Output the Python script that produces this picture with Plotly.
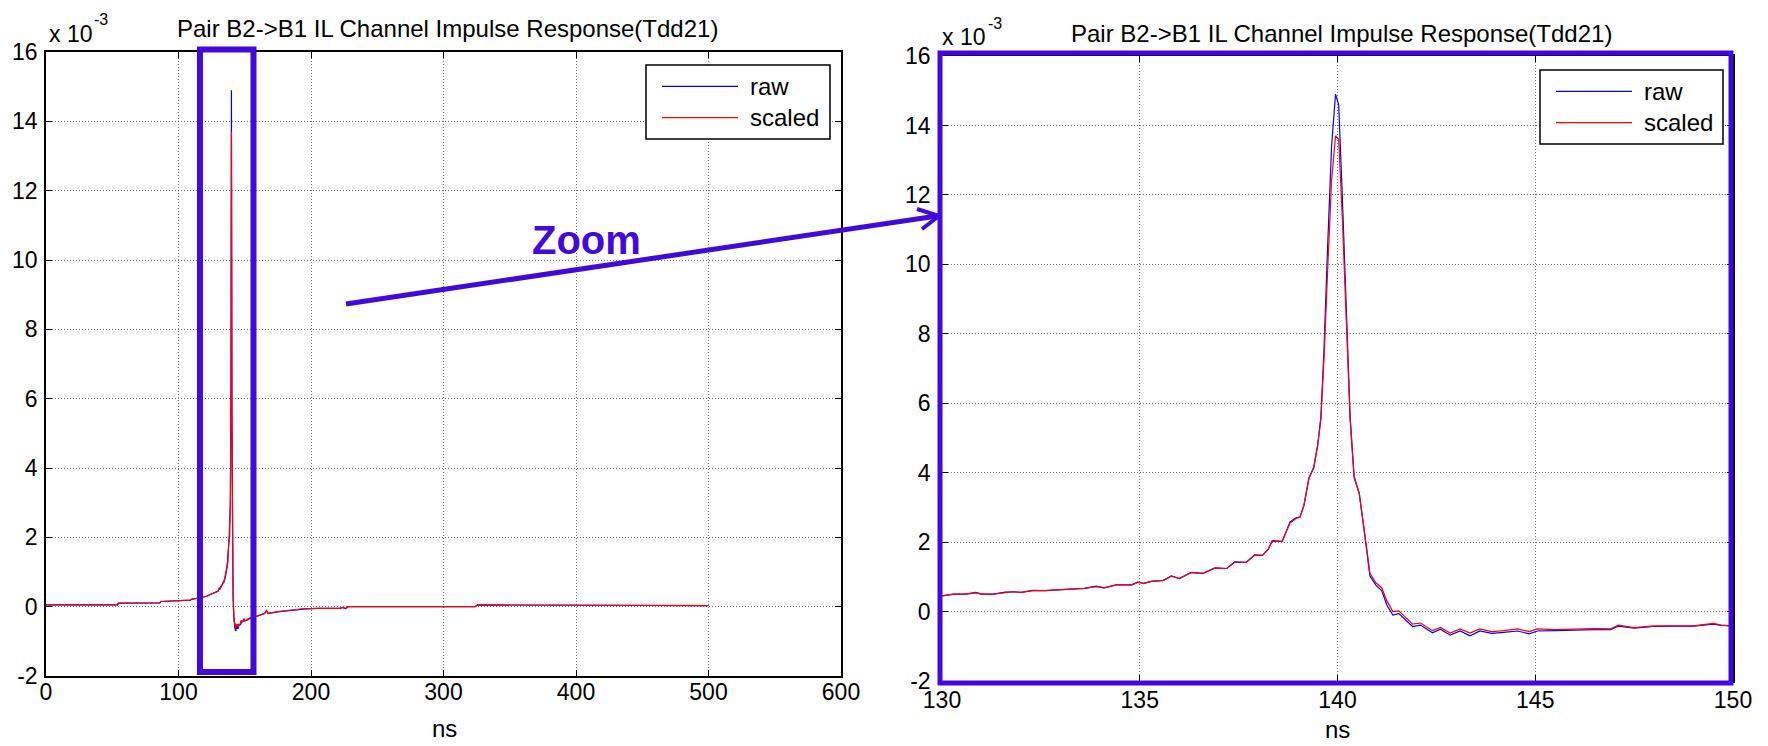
import plotly.graph_objects as go

# ---------------- data (values in units of 1e-3) ----------------
time_ns = [0, 54, 54.6, 86, 86.6, 100, 109, 110, 116, 121, 125, 128,
           130.0, 130.3, 130.6, 130.85, 131.0, 131.3, 131.6, 131.8, 132.0, 132.3,
           132.6, 133.0, 133.3, 133.6, 133.9, 134.1, 134.4, 134.8, 134.95, 135.1,
           135.3, 135.6, 135.8, 136.0, 136.3, 136.6, 136.9, 137.2, 137.4, 137.7,
           137.9, 138.1, 138.25, 138.35, 138.6, 138.8, 138.95, 139.05, 139.15, 139.28,
           139.4, 139.5, 139.58, 139.66, 139.75, 139.85, 139.95, 140.03, 140.12, 140.22,
           140.32, 140.42, 140.55, 140.7, 140.82, 140.97, 141.12, 141.25, 141.4, 141.55,
           141.7, 141.9, 142.1, 142.4, 142.6, 142.85, 143.1, 143.35, 143.6, 143.9,
           144.2, 144.55, 144.85, 145.05, 145.5, 146.0, 146.5, 146.9, 147.1, 147.5,
           148.0, 148.5, 149.0, 149.5, 149.7, 150.0,
           152, 156, 160, 165, 166.5, 167.5, 175, 185, 194, 205, 222, 224, 226, 228,
           324, 325.5, 500]

raw_e3 = [0.05, 0.05, 0.10, 0.11, 0.15, 0.17, 0.19, 0.22, 0.25, 0.30, 0.36, 0.42,
          0.45, 0.50, 0.50, 0.55, 0.50, 0.50, 0.56, 0.57, 0.55, 0.61,
          0.60, 0.63, 0.66, 0.67, 0.73, 0.68, 0.77, 0.77, 0.85, 0.81,
          0.87, 0.90, 1.03, 0.95, 1.13, 1.10, 1.26, 1.24, 1.43, 1.42,
          1.63, 1.62, 1.80, 2.04, 2.02, 2.58, 2.70, 2.72, 3.05, 3.85,
          4.15, 4.80, 5.60, 7.60, 10.5, 13.4, 14.9, 14.6, 12.0, 8.5,
          5.6, 3.9, 3.4, 2.1, 1.02, 0.76, 0.60, 0.18, -0.10, -0.06,
          -0.22, -0.43, -0.39, -0.61, -0.51, -0.68, -0.56, -0.70, -0.56, -0.63,
          -0.60, -0.56, -0.64, -0.56, -0.55, -0.53, -0.52, -0.52, -0.42, -0.48,
          -0.43, -0.42, -0.42, -0.36, -0.40, -0.41,
          -0.38, -0.30, -0.27, -0.20, -0.12, -0.20, -0.15, -0.10, -0.07, -0.05, -0.05, -0.02, -0.06, 0.0,
          0.0, 0.05, 0.03]

scaled_e3 = [0.05, 0.05, 0.10, 0.11, 0.15, 0.17, 0.19, 0.22, 0.25, 0.30, 0.36, 0.42,
             0.45, 0.50, 0.50, 0.54, 0.50, 0.50, 0.55, 0.57, 0.55, 0.60,
             0.60, 0.63, 0.66, 0.67, 0.72, 0.68, 0.77, 0.77, 0.84, 0.81,
             0.87, 0.90, 1.02, 0.95, 1.12, 1.10, 1.25, 1.24, 1.42, 1.42,
             1.62, 1.62, 1.80, 2.02, 2.02, 2.55, 2.68, 2.72, 3.05, 3.85,
             4.15, 4.80, 5.55, 7.30, 9.8, 12.4, 13.7, 13.6, 11.4, 8.2,
             5.5, 3.85, 3.4, 2.15, 1.10, 0.83, 0.68, 0.30, 0.0, 0.02,
             -0.15, -0.36, -0.33, -0.55, -0.46, -0.62, -0.50, -0.62, -0.50, -0.58,
             -0.55, -0.50, -0.58, -0.50, -0.52, -0.50, -0.49, -0.50, -0.39, -0.46,
             -0.41, -0.41, -0.41, -0.34, -0.39, -0.41,
             -0.36, -0.29, -0.26, -0.19, -0.11, -0.19, -0.14, -0.09, -0.06, -0.05, -0.05, -0.02, -0.05, 0.0,
             0.0, 0.05, 0.03]

series_names = ["raw", "scaled"]
left_xticks = [0, 100, 200, 300, 400, 500, 600]
right_xticks = [130, 135, 140, 145, 150]
y_ticks = [-2, 0, 2, 4, 6, 8, 10, 12, 14, 16]
y_ticklabels = ["-2", "0", "2", "4", "6", "8", "10", "12", "14", "16"]
zoom_window_ns = [116.2, 156.6]
title_text = "Pair B2->B1 IL Channel Impulse Response(Tdd21)"

# ---------------- layout helpers ----------------
W, H = 1768, 746
FONT = "Liberation Sans, Arial, sans-serif"
ACCENT = "#4209DD"
BLUE = "#0000FF"
RED = "#FF0000"


def px(x):
    return x / W


def py(y):
    return 1 - y / H


fig = go.Figure()
for xa, ya in (("x", "y"), ("x2", "y2")):
    fig.add_trace(go.Scatter(x=time_ns, y=raw_e3, mode="lines", name=series_names[0],
                             line=dict(color=BLUE, width=1.2), xaxis=xa, yaxis=ya,
                             showlegend=False))
    fig.add_trace(go.Scatter(x=time_ns, y=scaled_e3, mode="lines", name=series_names[1],
                             line=dict(color=RED, width=1.2), xaxis=xa, yaxis=ya,
                             showlegend=False))

axis_style = dict(showline=True, linecolor="black", linewidth=1.5, mirror="ticks",
                  ticks="inside", ticklen=6, tickcolor="black", tickwidth=1,
                  showgrid=True, gridcolor="rgba(0,0,0,0.55)", griddash="1px,2px", gridwidth=1,
                  zeroline=False, automargin=False,
                  tickfont=dict(family=FONT, size=23, color="black"))

fig.update_layout(
    width=W, height=H, margin=dict(l=0, r=0, t=0, b=0, autoexpand=False),
    paper_bgcolor="white", plot_bgcolor="white",
    xaxis=dict(domain=[px(46), px(841)], range=[0, 600], tickvals=left_xticks,
               anchor="y", ticklabelstandoff=-5, **axis_style),
    yaxis=dict(domain=[py(676), py(52)], range=[-2, 16], tickvals=y_ticks,
               ticktext=y_ticklabels, anchor="x", ticklabelstandoff=2, **axis_style),
    xaxis2=dict(domain=[px(942), px(1733)], range=[130, 150], tickvals=right_xticks,
                anchor="y2", ticklabelstandoff=-2, **axis_style),
    yaxis2=dict(domain=[py(681), py(56)], range=[-2, 16], tickvals=y_ticks,
                ticktext=y_ticklabels, anchor="x2", ticklabelstandoff=5, **axis_style),
)

ann = []


def text(x, y, s, size, xanchor="center", yanchor="middle", color="black", bold=False):
    ann.append(dict(x=px(x), y=py(y), xref="paper", yref="paper", text=s, showarrow=False,
                    xanchor=xanchor, yanchor=yanchor, borderpad=0,
                    font=dict(family=FONT, size=size, color=color,
                              weight="bold" if bold else "normal")))


# titles
text(447, 28, title_text, 24)
text(1341, 33, title_text, 24)
# exponent labels
text(48, 34, "x 10", 23, xanchor="left")
text(93, 19, "-3", 16, xanchor="left")
text(941, 37, "x 10", 23, xanchor="left")
text(987, 23, "-3", 16, xanchor="left")
# x axis labels
text(444, 728, "ns", 24)
text(1337, 729, "ns", 24)
# Zoom label
text(586, 240, "Zoom", 40, color=ACCENT, bold=True)

shapes = []


def pline(x0, y0, x1, y1, color, width):
    shapes.append(dict(type="line", xref="paper", yref="paper", x0=px(x0), y0=py(y0),
                       x1=px(x1), y1=py(y1), line=dict(color=color, width=width)))


def prect(x0, y0, x1, y1, color, width):
    shapes.append(dict(type="rect", xref="paper", yref="paper", x0=px(x0), y0=py(y0),
                       x1=px(x1), y1=py(y1), line=dict(color=color, width=width),
                       fillcolor="rgba(0,0,0,0)"))


# legends (manual)
for (bx0, by0, bx1, by1) in ((646, 65, 830, 139), (1540, 70, 1723, 144)):
    shapes.append(dict(type="rect", xref="paper", yref="paper", x0=px(bx0), y0=py(by0),
                       x1=px(bx1), y1=py(by1), line=dict(color="black", width=1.5),
                       fillcolor="white", layer="above"))
    r1 = by0 + (by1 - by0) * 0.29
    r2 = by0 + (by1 - by0) * 0.71
    pline(bx0 + 16, r1, bx0 + 92, r1, BLUE, 1.2)
    pline(bx0 + 16, r2, bx0 + 92, r2, RED, 1.2)
    text(bx0 + 103, r1, series_names[0], 24, xanchor="left")
    text(bx0 + 103, r2, series_names[1], 24, xanchor="left")

# zoom window on left plot
shapes.append(dict(type="rect", xref="x", yref="paper", x0=zoom_window_ns[0], x1=zoom_window_ns[1],
                   y0=py(672), y1=py(49.5), line=dict(color=ACCENT, width=6),
                   fillcolor="rgba(0,0,0,0)"))
# frame around right plot
prect(940, 53, 1731, 683, ACCENT, 5)
# arrow
pline(346, 304, 937, 216, ACCENT, 5)
pline(917, 209, 939, 216, ACCENT, 4)
pline(922, 229, 939, 216, ACCENT, 4)

fig.update_layout(annotations=ann, shapes=shapes)
fig.write_html("out.html")
